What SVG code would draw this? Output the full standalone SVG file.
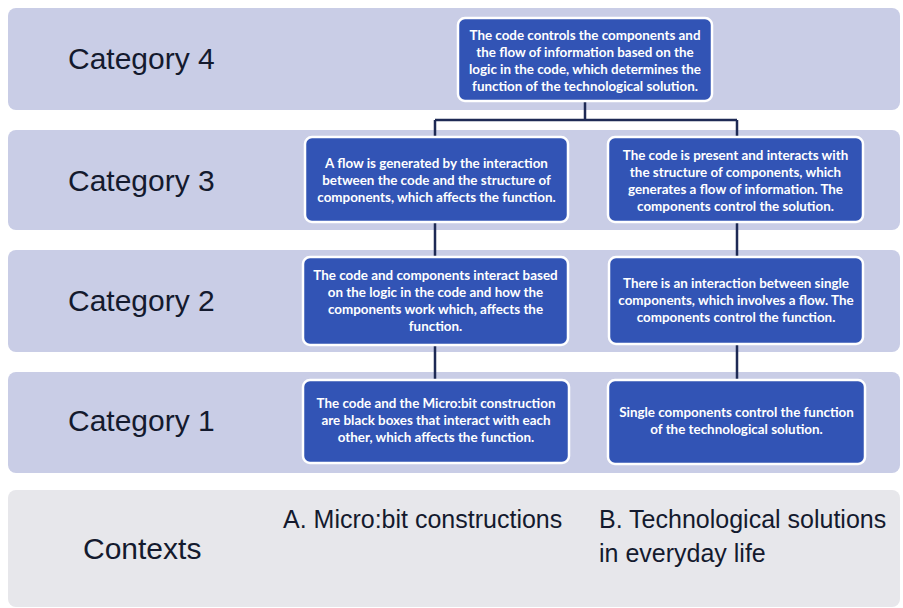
<svg xmlns="http://www.w3.org/2000/svg" width="903" height="608" viewBox="0 0 903 608">
<style>
.band{fill:#c9cde6}
.ctx{fill:#e7e7eb}
.cat{font-family:"Liberation Sans",Arial,sans-serif;font-size:30px;fill:#141a2e}
.ctxt{font-family:"Liberation Sans",Arial,sans-serif;font-size:25px;fill:#141a2e}
.box{fill:#3254b5;stroke:#ffffff;stroke-width:2.5}
.t{font-family:Lato,"Liberation Sans",sans-serif;font-weight:bold;font-size:13.4px;fill:#ffffff;text-anchor:middle}
.con{stroke:#1e2a55;stroke-width:2.5;fill:none}
</style>
<rect width="903" height="608" fill="#ffffff"/>
<g id="bands">
<rect class="band" x="8" y="8" width="892" height="102" rx="8"/>
<rect class="band" x="8" y="130" width="892" height="100" rx="8"/>
<rect class="band" x="8" y="250" width="892" height="102" rx="8"/>
<rect class="band" x="8" y="372" width="892" height="101" rx="8"/>
<rect class="ctx" x="8" y="490" width="892" height="117" rx="8"/>
<text class="cat" x="68" y="69">Category 4</text>
<text class="cat" x="68" y="191">Category 3</text>
<text class="cat" x="68" y="311">Category 2</text>
<text class="cat" x="68" y="431">Category 1</text>
<text class="cat" x="83" y="559">Contexts</text>
<text class="ctxt" x="283" y="528">A. Micro:bit constructions</text>
<text class="ctxt" x="599" y="528">B. Technological solutions</text>
<text class="ctxt" x="599" y="562">in everyday life</text>
</g>
<g id="connectors">
<path class="con" d="M585 102V120M435 120H737M435 120V137M737 120V137"/>
<path class="con" d="M435 222V257M435 345V380"/>
<path class="con" d="M737 222V257M737 344V380"/>
</g>
<g id="n4">
<rect class="box" x="458" y="18" width="254" height="83" rx="7"/>
<text class="t" x="585" y="39.5">The code controls the components and</text>
<text class="t" x="585" y="56.5">the flow of information based on the</text>
<text class="t" x="585" y="73.5">logic in the code, which determines the</text>
<text class="t" x="585" y="90.5">function of the  technological solution.</text>
</g>
<g id="n3a">
<rect class="box" x="305" y="137" width="263" height="85" rx="7"/>
<text class="t" x="436.5" y="167.5">A flow is generated by the interaction</text>
<text class="t" x="436.5" y="184.5">between the code and the structure of</text>
<text class="t" x="436.5" y="201.5">components, which affects the function.</text>
</g>
<g id="n3b">
<rect class="box" x="608" y="137" width="255" height="85" rx="7"/>
<text class="t" x="735.5" y="159.5">The code is present and interacts with</text>
<text class="t" x="735.5" y="176.5">the structure of components, which</text>
<text class="t" x="735.5" y="194">generates a flow of information. The</text>
<text class="t" x="735.5" y="211">components control the solution.</text>
</g>
<g id="n2a">
<rect class="box" x="303" y="257" width="265" height="88" rx="7"/>
<text class="t" x="435.5" y="279.5">The code and components interact based</text>
<text class="t" x="435.5" y="296.5">on the logic in the code and how the</text>
<text class="t" x="435.5" y="313.5">components work which, affects the</text>
<text class="t" x="435.5" y="330.5">function.</text>
</g>
<g id="n2b">
<rect class="box" x="609" y="257" width="254" height="87" rx="7"/>
<text class="t" x="736" y="287.5">There is an interaction between single</text>
<text class="t" x="736" y="304.5">components, which involves a flow.  The</text>
<text class="t" x="736" y="321.5">components control the function.</text>
</g>
<g id="n1a">
<rect class="box" x="303" y="380" width="266" height="83" rx="7"/>
<text class="t" x="436" y="407.5">The code and the Micro:bit construction</text>
<text class="t" x="436" y="424.5">are black boxes that interact with each</text>
<text class="t" x="436" y="441.5">other, which affects the function.</text>
</g>
<g id="n1b">
<rect class="box" x="608" y="380" width="257" height="84" rx="7"/>
<text class="t" x="736.5" y="416.5">Single components control the function</text>
<text class="t" x="736.5" y="433.5">of the technological solution.</text>
</g>
</svg>
